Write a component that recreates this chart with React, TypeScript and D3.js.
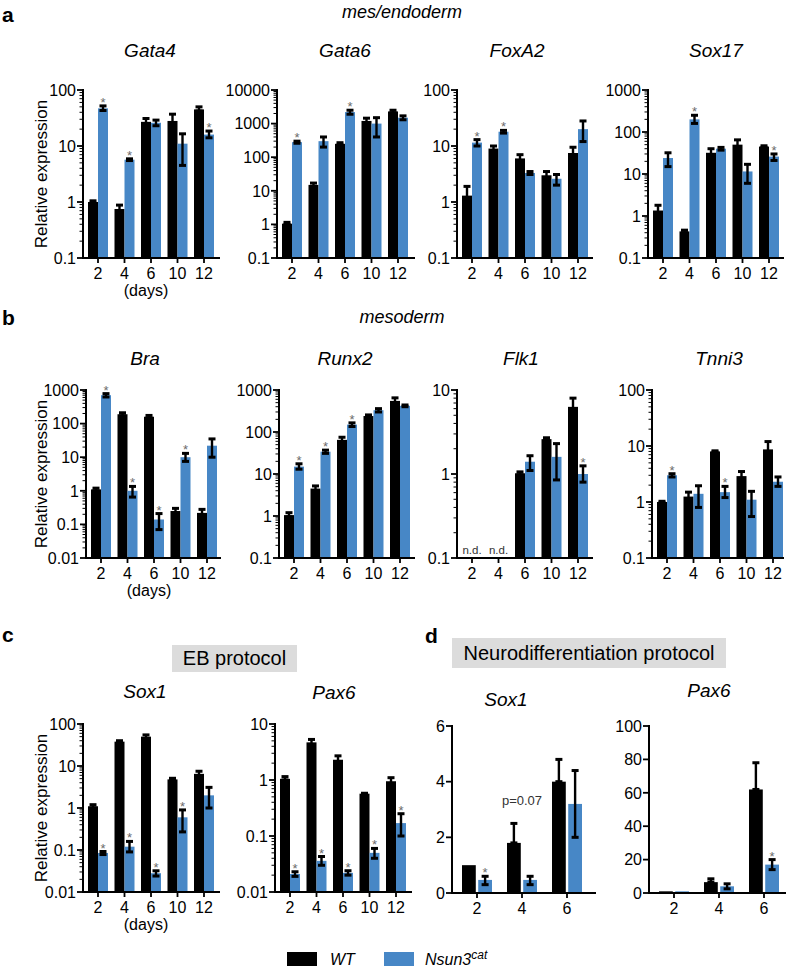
import React from "react";
import * as d3 from "d3";

const FONT = "'Liberation Sans', Arial, Helvetica, sans-serif";
const BLUE = "#4787c6";
const STAR = "#6b6b6b";

const days5 = ["2", "4", "6", "10", "12"];
const days3 = ["2", "4", "6"];

// ---- a: mes/endoderm ----
const gata4WT = [1.0, 0.75, 27, 28, 45];
const gata4WTErr = [[0.95, 1.05], [0.65, 0.88], [24, 31], [20, 37], [42, 50]];
const gata4KO = [47, 5.7, 26, 11, 16];
const gata4KOErr = [[43, 52], [5.5, 5.9], [23, 29], [4.5, 16.5], [14, 18.5]];
const gata4Star = [1, 1, 0, 0, 1];

const gata6WT = [1.05, 15, 250, 1200, 2300];
const gata6WTErr = [[1, 1.15], [13, 17], [230, 270], [1000, 1450], [2100, 2500]];
const gata6KO = [280, 300, 2200, 1000, 1500];
const gata6KOErr = [[260, 300], [200, 400], [1900, 2500], [400, 1500], [1300, 1700]];
const gata6Star = [1, 0, 1, 0, 0];

const foxa2WT = [1.3, 9, 6, 3, 7.5];
const foxa2WTErr = [[0.8, 1.9], [8, 10], [5, 7], [2.5, 3.5], [6, 9.5]];
const foxa2KO = [11.5, 18, 3.3, 2.6, 20];
const foxa2KOErr = [[10, 13], [17, 19], [3.1, 3.5], [2, 3.1], [12, 28]];
const foxa2Star = [1, 1, 0, 0, 0];

const sox17WT = [1.35, 0.43, 32, 50, 45];
const sox17WTErr = [[1.1, 1.8], [0.4, 0.46], [27, 40], [42, 65], [43, 47]];
const sox17KO = [24, 200, 40, 11.5, 26];
const sox17KOErr = [[15, 32], [160, 250], [37, 43], [6, 17], [21, 30]];
const sox17Star = [0, 1, 0, 0, 1];

// ---- b: mesoderm ----
const braWT = [1.1, 190, 160, 0.25, 0.22];
const braWTErr = [[1.0, 1.2], [170, 210], [145, 175], [0.2, 0.3], [0.18, 0.28]];
const braKO = [700, 1.0, 0.14, 10, 22];
const braKOErr = [[620, 780], [0.65, 1.35], [0.07, 0.21], [7.5, 13], [10, 35]];
const braStar = [1, 1, 1, 1, 0];

const runx2WT = [1.05, 4.5, 65, 240, 550];
const runx2WTErr = [[0.95, 1.2], [4, 5.2], [58, 75], [225, 255], [480, 650]];
const runx2KO = [15, 34, 150, 330, 420];
const runx2KOErr = [[13, 17.5], [31, 37], [135, 165], [300, 360], [400, 440]];
const runx2Star = [1, 1, 1, 0, 0];

const flk1WT = [null, null, 1.02, 2.6, 6.3];
const flk1WTErr = [null, null, [0.98, 1.06], [2.5, 2.7], [5, 8]];
const flk1KO = [null, null, 1.4, 1.6, 1.0];
const flk1KOErr = [null, null, [1.1, 1.65], [0.85, 2.3], [0.8, 1.25]];
const flk1Star = [0, 0, 0, 0, 1];

const tnni3WT = [1.0, 1.25, 8, 2.9, 8.7];
const tnni3WTErr = [[0.97, 1.03], [1.1, 1.5], [7.8, 8.2], [2.6, 3.5], [7, 12]];
const tnni3KO = [3.0, 1.4, 1.5, 1.1, 2.3];
const tnni3KOErr = [[2.8, 3.2], [0.8, 1.95], [1.2, 1.9], [0.55, 1.55], [1.9, 2.8]];
const tnni3Star = [1, 0, 1, 0, 0];

// ---- c: EB protocol ----
const sox1ebWT = [1.1, 38, 50, 4.8, 6.5];
const sox1ebWTErr = [[1, 1.2], [35, 40], [45, 55], [4.5, 5.1], [5.8, 7.5]];
const sox1ebKO = [0.085, 0.12, 0.028, 0.6, 2.0];
const sox1ebKOErr = [[0.078, 0.092], [0.09, 0.16], [0.024, 0.032], [0.27, 0.9], [1.0, 3.1]];
const sox1ebStar = [1, 1, 1, 1, 0];

const pax6ebWT = [1.05, 4.7, 2.3, 0.57, 0.95];
const pax6ebWTErr = [[1, 1.15], [4.2, 5.3], [2.1, 2.7], [0.56, 0.58], [0.85, 1.1]];
const pax6ebKO = [0.021, 0.036, 0.022, 0.05, 0.17];
const pax6ebKOErr = [[0.019, 0.023], [0.03, 0.043], [0.02, 0.024], [0.04, 0.06], [0.1, 0.25]];
const pax6ebStar = [1, 1, 1, 1, 1];

// ---- d: Neurodifferentiation protocol ----
const sox1ndWT = [1.0, 1.8, 4.0];
const sox1ndWTErr = [[1, 1], [1.8, 2.5], [4.0, 4.8]];
const sox1ndKO = [0.47, 0.47, 3.2];
const sox1ndKOErr = [[0.3, 0.6], [0.3, 0.6], [2.0, 4.4]];
const sox1ndStar = [1, 0, 0];

const pax6ndWT = [1, 6.5, 62];
const pax6ndWTErr = [[1, 1], [6.5, 8.5], [62, 78]];
const pax6ndKO = [1, 4, 17];
const pax6ndKOErr = [[1, 1], [2.5, 5.5], [14, 20]];
const pax6ndStar = [0, 0, 1];

const panels = [
  { title: "Gata4", days: days5, wt: gata4WT, wtErr: gata4WTErr, ko: gata4KO, koErr: gata4KOErr, star: gata4Star, log: true, domain: [0.1, 100], L: 83, R: 219, top: 90, bottom: 258, tx: 150, ty: 57, ylab: true, daysLab: true },
  { title: "Gata6", days: days5, wt: gata6WT, wtErr: gata6WTErr, ko: gata6KO, koErr: gata6KOErr, star: gata6Star, log: true, domain: [0.1, 10000], L: 277, R: 414, top: 90, bottom: 258, tx: 345, ty: 57 },
  { title: "FoxA2", days: days5, wt: foxa2WT, wtErr: foxa2WTErr, ko: foxa2KO, koErr: foxa2KOErr, star: foxa2Star, log: true, domain: [0.1, 100], L: 457, R: 592, top: 90, bottom: 258, tx: 517, ty: 57 },
  { title: "Sox17", days: days5, wt: sox17WT, wtErr: sox17WTErr, ko: sox17KO, koErr: sox17KOErr, star: sox17Star, log: true, domain: [0.1, 1000], L: 648, R: 783, top: 90, bottom: 258, tx: 716, ty: 57 },
  { title: "Bra", days: days5, wt: braWT, wtErr: braWTErr, ko: braKO, koErr: braKOErr, star: braStar, log: true, domain: [0.01, 1000], L: 86, R: 220, top: 390, bottom: 558, tx: 145, ty: 365, ylab: true, daysLab: true },
  { title: "Runx2", days: days5, wt: runx2WT, wtErr: runx2WTErr, ko: runx2KO, koErr: runx2KOErr, star: runx2Star, log: true, domain: [0.1, 1000], L: 279, R: 414, top: 390, bottom: 558, tx: 345, ty: 365 },
  { title: "Flk1", days: days5, wt: flk1WT, wtErr: flk1WTErr, ko: flk1KO, koErr: flk1KOErr, star: flk1Star, log: true, domain: [0.1, 10], L: 457, R: 592, top: 390, bottom: 558, tx: 521, ty: 365 },
  { title: "Tnni3", days: days5, wt: tnni3WT, wtErr: tnni3WTErr, ko: tnni3KO, koErr: tnni3KOErr, star: tnni3Star, log: true, domain: [0.1, 100], L: 652, R: 783, top: 390, bottom: 558, tx: 719, ty: 365 },
  { title: "Sox1", days: days5, wt: sox1ebWT, wtErr: sox1ebWTErr, ko: sox1ebKO, koErr: sox1ebKOErr, star: sox1ebStar, log: true, domain: [0.01, 100], L: 83, R: 219, top: 724, bottom: 892, tx: 145, ty: 698, ylab: true, daysLab: true },
  { title: "Pax6", days: days5, wt: pax6ebWT, wtErr: pax6ebWTErr, ko: pax6ebKO, koErr: pax6ebKOErr, star: pax6ebStar, log: true, domain: [0.01, 10], L: 275, R: 411, top: 724, bottom: 892, tx: 334, ty: 699 },
  { title: "Sox1", days: days3, wt: sox1ndWT, wtErr: sox1ndWTErr, ko: sox1ndKO, koErr: sox1ndKOErr, star: sox1ndStar, log: false, domain: [0, 6], ticks: [0, 2, 4, 6], L: 452, R: 595, top: 726, bottom: 893, tx: 506, ty: 706, note: { text: "p=0.07", day: "4", y: 805 } },
  { title: "Pax6", days: days3, wt: pax6ndWT, wtErr: pax6ndWTErr, ko: pax6ndKO, koErr: pax6ndKOErr, star: pax6ndStar, log: false, domain: [0, 100], ticks: [0, 20, 40, 60, 80, 100], L: 649, R: 785, top: 726, bottom: 893, tx: 709, ty: 697 },
];

function logTicks(min: number, max: number) {
  const out: { v: number; major: boolean }[] = [];
  const d0 = Math.round(Math.log10(min));
  const d1 = Math.round(Math.log10(max));
  for (let d = d0; d < d1; d++) {
    for (let k = 1; k < 10; k++) out.push({ v: +(k * Math.pow(10, d)).toPrecision(3), major: k === 1 });
  }
  out.push({ v: max, major: true });
  return out;
}

function Panel({ p }: { p: any }) {
  const y: any = p.log
    ? d3.scaleLog().domain(p.domain).range([p.bottom, p.top])
    : d3.scaleLinear().domain(p.domain).range([p.bottom, p.top]);
  const wide = p.days.length === 3;
  const x = d3.scalePoint().domain(p.days).range(wide ? [p.L + 25, p.L + 115] : [p.L + 15, p.L + 121]);
  const sub = d3.scaleBand().domain(["WT", "KO"]).range(wide ? [-15, 15] : [-10, 10]).paddingInner(wide ? 0.15 : 0);
  const bw = sub.bandwidth();
  const ticks = p.log ? logTicks(p.domain[0], p.domain[1]) : p.ticks.map((v: number) => ({ v, major: true }));
  const fmt = (v: number) => String(v);
  const base = p.bottom;

  const series = [
    { key: "WT", vals: p.wt, err: p.wtErr, color: "#000" },
    { key: "KO", vals: p.ko, err: p.koErr, color: BLUE },
  ];

  return (
    <g>
      <text x={p.tx} y={p.ty} textAnchor="middle" fontStyle="italic" fontSize={19} fontFamily={FONT}>{p.title}</text>
      {series.map((s) =>
        s.vals.map((v: number | null, i: number) => {
          if (v == null) return null;
          const cx0 = (x(p.days[i]) as number) + (sub(s.key) as number);
          return <rect key={s.key + i} x={cx0} y={y(v)} width={bw} height={base - y(v)} fill={s.color} />;
        })
      )}
      {series.map((s) =>
        s.vals.map((v: number | null, i: number) => {
          if (v == null || !s.err[i]) return null;
          const cx = (x(p.days[i]) as number) + (sub(s.key) as number) + bw / 2;
          const [lo, hi] = s.err[i];
          const y1 = y(lo), y2 = y(hi);
          if (Math.abs(y1 - y2) < 0.5) return null;
          return (
            <g key={"e" + s.key + i} stroke="#000">
              <line x1={cx} x2={cx} y1={y1} y2={y2} strokeWidth={2.4} />
              <line x1={cx - 3.5} x2={cx + 3.5} y1={y2} y2={y2} strokeWidth={3} />
              <line x1={cx - 3.5} x2={cx + 3.5} y1={y1} y2={y1} strokeWidth={3} />
            </g>
          );
        })
      )}
      {p.star.map((st: number, i: number) => {
        if (!st) return null;
        const cx = (x(p.days[i]) as number) + (sub("KO") as number) + bw / 2;
        const hi = p.koErr[i] ? p.koErr[i][1] : p.ko[i];
        return <text key={"s" + i} x={cx} y={y(hi) + 1} textAnchor="middle" fontSize={13} fill={STAR} fontFamily={FONT}>*</text>;
      })}
      {p.wt.map((v: number | null, i: number) =>
        v == null ? (
          <text key={"nd" + i} x={x(p.days[i])} y={base - 4} textAnchor="middle" fontSize={11.5} fill="#333" fontFamily={FONT}>n.d.</text>
        ) : null
      )}
      {p.note ? (
        <text x={x(p.note.day)} y={p.note.y} textAnchor="middle" fontSize={13} fill="#333" fontFamily={FONT}>{p.note.text}</text>
      ) : null}
      <line x1={p.L} x2={p.L} y1={p.top} y2={p.bottom} stroke="#000" strokeWidth={2} strokeLinecap="square" />
      {ticks.map((t: any, i: number) => (
        <g key={"t" + i}>
          <line x1={p.L - (t.major ? 6 : 3.5)} x2={p.L} y1={y(t.v)} y2={y(t.v)} stroke="#000" strokeWidth={t.major ? 1.8 : 1} />
          {t.major ? (
            <text x={p.L - 7} y={y(t.v)} dy="0.36em" textAnchor="end" fontSize={16} fontFamily={FONT}>{fmt(t.v)}</text>
          ) : null}
        </g>
      ))}
      <line x1={p.L} x2={p.R} y1={p.bottom} y2={p.bottom} stroke="#000" strokeWidth={2} strokeLinecap="square" />
      {p.days.map((d: string) => (
        <g key={"x" + d}>
          <line x1={x(d)} x2={x(d)} y1={p.bottom} y2={p.bottom + 5} stroke="#000" strokeWidth={1.8} />
          <text x={x(d)} y={p.bottom + 21} textAnchor="middle" fontSize={16} fontFamily={FONT}>{d}</text>
        </g>
      ))}
      {p.daysLab ? (
        <text x={p.L + 63} y={p.bottom + 38} textAnchor="middle" fontSize={16} fontFamily={FONT}>(days)</text>
      ) : null}
      {p.ylab ? (
        <text transform={`translate(47,${(p.top + p.bottom) / 2}) rotate(-90)`} textAnchor="middle" fontSize={17} fontFamily={FONT}>Relative expression</text>
      ) : null}
    </g>
  );
}

export default function App() {
  return (
    <svg width={787} height={978} style={{ position: "absolute", left: 0, top: 0, background: "#fff" }} fontFamily={FONT}>
      <rect width={787} height={978} fill="#fff" />
      <text x={2} y={22} fontSize={21} fontWeight="bold">a</text>
      <text x={2} y={325} fontSize={21} fontWeight="bold">b</text>
      <text x={2} y={642} fontSize={21} fontWeight="bold">c</text>
      <text x={425} y={643} fontSize={21} fontWeight="bold">d</text>
      <text x={402} y={18} textAnchor="middle" fontStyle="italic" fontSize={18}>mes/endoderm</text>
      <text x={402} y={323} textAnchor="middle" fontStyle="italic" fontSize={18}>mesoderm</text>
      <rect x={172} y={645} width={125} height={27} fill="#dcdcdc" />
      <text x={234.5} y={665} textAnchor="middle" fontSize={20}>EB protocol</text>
      <rect x={452} y={638} width={274} height={30} fill="#dcdcdc" />
      <text x={589} y={660} textAnchor="middle" fontSize={20}>Neurodifferentiation protocol</text>
      {panels.map((p, i) => <Panel key={i} p={p} />)}
      <rect x={287} y={952} width={30} height={14} fill="#000" />
      <text x={330} y={965} fontSize={16} fontStyle="italic">WT</text>
      <rect x={384} y={952} width={30} height={14} fill={BLUE} />
      <text x={425} y={965} fontSize={16} fontStyle="italic">Nsun3<tspan dy={-6} fontSize={12}>cat</tspan></text>
    </svg>
  );
}
